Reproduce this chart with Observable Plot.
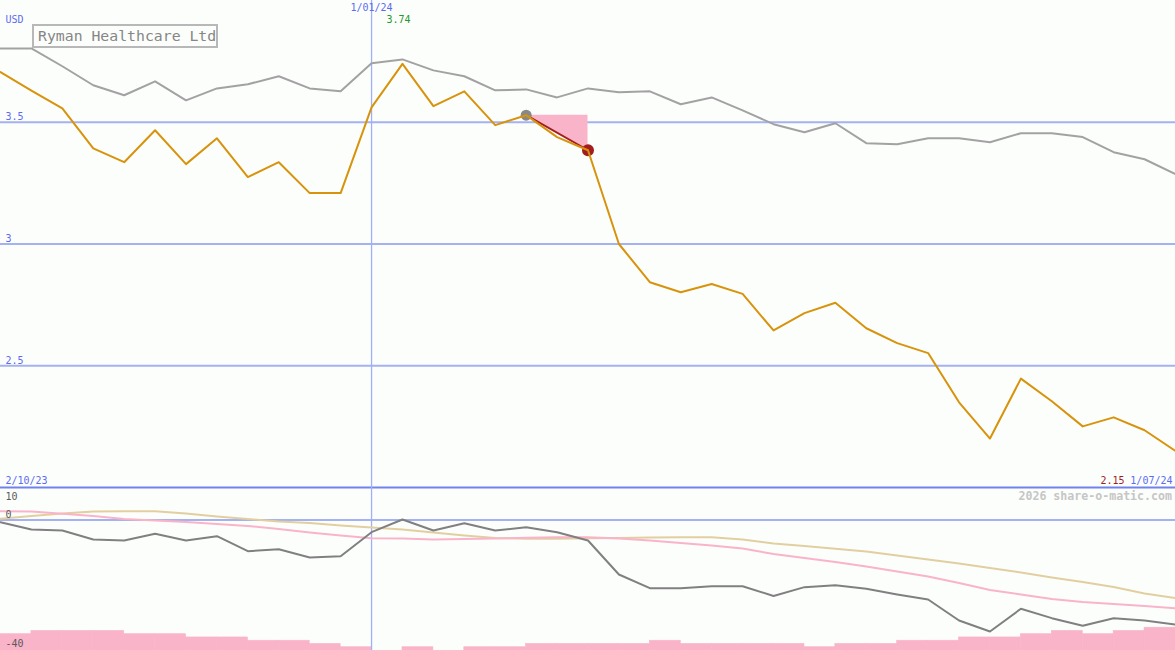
<!DOCTYPE html>
<html>
<head>
<meta charset="utf-8">
<script src="https://cdn.jsdelivr.net/npm/d3@7"></script>
<script src="https://cdn.jsdelivr.net/npm/@observablehq/plot@0.6"></script>
<style>
  html, body { margin: 0; padding: 0; background: #fcfefc; }
  #chart { position: relative; width: 1175px; height: 650px; overflow: hidden; background: #fcfefc; font-family: "DejaVu Sans Mono", monospace; }
  #chart svg { display: block; }
  #title { position: absolute; left: 32px; top: 24px; height: 20px; padding: 0 0 0 4px; border: 2px solid #b8b8b8; background: #fcfefc; color: #868686; font-size: 14.8px; line-height: 20px; white-space: nowrap; }
  #brand { position: absolute; right: 3px; top: 489px; color: #c6c6c6; font-size: 11.6px; font-weight: bold; line-height: 14px; }
</style>
</head>
<body>
<div id="chart">
  <div id="title">Ryman Healthcare Ltd</div>
</div>
<script>
// ---- data ----
const weeks = ["2023-10-09","2023-10-16","2023-10-23","2023-10-30","2023-11-06","2023-11-13","2023-11-20","2023-11-27",
  "2023-12-04","2023-12-11","2023-12-18","2023-12-25","2024-01-01","2024-01-08","2024-01-15","2024-01-22","2024-01-29",
  "2024-02-05","2024-02-12","2024-02-19","2024-02-26","2024-03-04","2024-03-11","2024-03-18","2024-03-25","2024-04-01",
  "2024-04-08","2024-04-15","2024-04-22","2024-04-29","2024-05-06","2024-05-13","2024-05-20","2024-05-27","2024-06-03",
  "2024-06-10","2024-06-17","2024-06-24","2024-07-01"];
const price = [3.706,3.63,3.557,3.393,3.336,3.467,3.328,3.434,3.275,3.336,3.209,3.209,3.561,3.74,3.566,3.627,3.488,
  3.529,3.439,3.385,3.0,2.843,2.802,2.836,2.795,2.645,2.716,2.759,2.654,2.593,2.552,2.35,2.201,2.447,2.354,2.251,2.288,2.235,2.15];
const benchmark = [3.803,3.803,3.73,3.652,3.611,3.668,3.59,3.639,3.656,3.689,3.639,3.627,3.742,3.758,3.713,3.689,3.631,
  3.635,3.602,3.639,3.623,3.627,3.574,3.602,3.549,3.492,3.459,3.496,3.414,3.41,3.434,3.434,3.418,3.455,3.455,3.439,3.377,3.348,3.287];
const momentum = [-0.64,-2.88,-3.19,-5.95,-6.26,-4.2,-6.26,-4.94,-9.54,-8.92,-11.47,-11.07,-3.71,0.19,-3.19,-0.95,-3.19,
  -2.18,-3.71,-6.26,-16.68,-20.88,-20.88,-20.27,-20.27,-23.27,-20.57,-19.96,-21.07,-22.81,-24.35,-30.79,-34.16,-27.2,-30.08,-32.41,-30.08,-30.79,-32.02];
const slowAvg = [0.40,1.26,2.03,2.64,2.73,2.73,2.03,1.11,0.34,-0.43,-0.89,-1.65,-2.27,-2.88,-3.80,-4.72,-5.49,-5.73,-5.73,
  -5.55,-5.49,-5.33,-5.24,-5.24,-5.95,-7.18,-7.94,-8.80,-9.63,-10.85,-12.08,-13.31,-14.69,-16.07,-17.60,-18.98,-20.52,-22.51,-23.95];
const fastAvg = [2.73,2.64,1.93,1.26,0.34,-0.12,-0.58,-1.19,-1.81,-2.73,-3.80,-4.72,-5.55,-5.64,-5.95,-5.80,-5.64,-5.43,-5.24,
  -5.24,-5.64,-6.26,-7.02,-7.79,-8.71,-10.40,-11.62,-12.85,-14.23,-15.76,-17.30,-19.29,-21.44,-22.82,-24.20,-25.12,-25.73,-26.35,-27.02];
const volume = [5,6,6,6,5,5,4,4,3,3,2,1,0,1,0,1,1,2,2,2,2,3,2,2,2,2,1,2,2,3,3,4,4,5,6,5,6,7];
const priceTicks = [3.5, 3, 2.5];
const priceTickLabels = ["3.5", "3", "2.5"];
const lowerTicksTop = [10];
const lowerTicksRest = [0];
const lowerTicksBottom = [-40];
const markerFrom = 17, markerTo = 19;
const startLabel = "2/10/23", midLabel = "1/01/24", endLabel = "1/07/24";
const midIndex = 12, maxIndex = 13;

// ---- build ----
const dates = weeks.map(d => new Date(d + "T00:00:00Z"));
const rows = dates.map((d, i) => ({date: d, price: price[i], bench: benchmark[i], mom: momentum[i], slow: slowAvg[i], fast: fastAvg[i]}));
const bars = volume.map((v, i) => ({x1: dates[i], x2: dates[i + 1], v}));
const mFrom = rows[markerFrom], mTo = rows[markerTo];
const tri = [{date: mFrom.date, y1: mFrom.price, y2: mFrom.price}, {date: mTo.date, y1: mTo.price, y2: mFrom.price}];

const GRID = "#a4b2f2", SEP = "#7282ec", VLINE = "#9fb0f6", BLUE = "#5c6cf0";
const ORANGE = "#d8930c", GRAY = "#a2a2a2", DGRAY = "#808080", TAN = "#e2cfa0", PINK = "#f9b4c9", RED = "#a21e1e", GREEN = "#22992a";
const FONT = "DejaVu Sans Mono";
const xScale = {type: "utc", domain: [dates[0], dates[dates.length - 1]], range: [0, 1175], axis: null};

const upper = Plot.plot({
  width: 1175, height: 489, margin: 0,
  x: xScale,
  y: {domain: [2, 4], range: [487, 0], axis: null},
  style: {background: "transparent", fontFamily: FONT, fontSize: "10px", overflow: "visible"},
  marks: [
    Plot.ruleY(priceTicks, {stroke: GRID, strokeWidth: 2}),
    Plot.ruleY([2], {stroke: SEP, strokeWidth: 2}),
    Plot.ruleX([dates[midIndex]], {stroke: VLINE, strokeWidth: 1.3}),
    Plot.areaY(tri, {x: "date", y1: "y1", y2: "y2", fill: PINK, curve: "linear"}),
    Plot.line(rows, {x: "date", y: "bench", stroke: GRAY, strokeWidth: 2}),
    Plot.line([mFrom, mTo], {x: "date", y: "price", stroke: RED, strokeWidth: 2}),
    Plot.dot([mFrom], {x: "date", y: "price", r: 5.5, fill: "#888888", stroke: null}),
    Plot.dot([mTo], {x: "date", y: "price", r: 6, fill: RED, stroke: null}),
    Plot.line(rows, {x: "date", y: "price", stroke: ORANGE, strokeWidth: 2}),
    Plot.text(priceTicks, {x: dates[0], y: d => d, text: (d, i) => priceTickLabels[i], textAnchor: "start", lineAnchor: "bottom", dx: 5, dy: -2, fill: BLUE, fontSize: 10}),
    Plot.text(["USD"], {frameAnchor: "top-left", textAnchor: "start", lineAnchor: "top", dx: 5, dy: 15, fill: BLUE, fontSize: 10}),
    Plot.text([midLabel], {x: dates[midIndex], frameAnchor: "top", lineAnchor: "top", dy: 3, fill: BLUE, fontSize: 10}),
    Plot.text([rows[maxIndex]], {x: "date", frameAnchor: "top", text: d => d.price.toFixed(2), lineAnchor: "top", dx: -4, dy: 15, fill: GREEN, fontSize: 10}),
    Plot.text([startLabel], {frameAnchor: "bottom-left", textAnchor: "start", lineAnchor: "bottom", dx: 5, dy: -6, fill: BLUE, fontSize: 10}),
    Plot.text([endLabel], {frameAnchor: "bottom-right", textAnchor: "end", lineAnchor: "bottom", dx: -3, dy: -6, fill: BLUE, fontSize: 10}),
    Plot.text([rows[rows.length - 1]], {frameAnchor: "bottom-right", text: d => d.price.toFixed(2), textAnchor: "end", lineAnchor: "bottom", dx: -51, dy: -6, fill: RED, fontSize: 10})
  ]
});

const lower = Plot.plot({
  width: 1175, height: 161, margin: 0,
  x: xScale,
  y: {domain: [-40, 10], range: [161, -2], axis: null},
  style: {background: "transparent", fontFamily: FONT, fontSize: "10px", overflow: "visible"},
  marks: [
    Plot.rectY(bars, {x1: "x1", x2: "x2", y1: -40, y2: d => -40 + d.v, fill: PINK, stroke: PINK, strokeWidth: 0.6, inset: 0}),
    Plot.ruleY([0], {stroke: GRID, strokeWidth: 2}),
    Plot.ruleX([dates[midIndex]], {stroke: VLINE, strokeWidth: 1.3}),
    Plot.line(rows, {x: "date", y: "slow", stroke: TAN, strokeWidth: 2}),
    Plot.line(rows, {x: "date", y: "fast", stroke: PINK, strokeWidth: 2}),
    Plot.line(rows, {x: "date", y: "mom", stroke: DGRAY, strokeWidth: 2}),
    Plot.text(lowerTicksTop, {x: dates[0], y: d => d, text: d => String(d), textAnchor: "start", lineAnchor: "top", dx: 5, dy: 5, fill: "#5a5a5a", fontSize: 10}),
    Plot.text(lowerTicksRest, {x: dates[0], y: d => d, text: d => String(d), textAnchor: "start", lineAnchor: "bottom", dx: 5, dy: -2, fill: "#5a5a5a", fontSize: 10}),
    Plot.text(lowerTicksBottom, {x: dates[0], y: d => d, text: d => String(d), textAnchor: "start", lineAnchor: "bottom", dx: 5, dy: -4, fill: "#5a5a5a", fontSize: 10})
  ]
});

const chart = document.getElementById("chart");
chart.insertBefore(upper, chart.firstChild);
chart.insertBefore(lower, document.getElementById("title"));
const brand = document.createElement("div");
brand.id = "brand";
brand.textContent = "2026 share-o-matic.com";
chart.appendChild(brand);
</script>
</body>
</html>
